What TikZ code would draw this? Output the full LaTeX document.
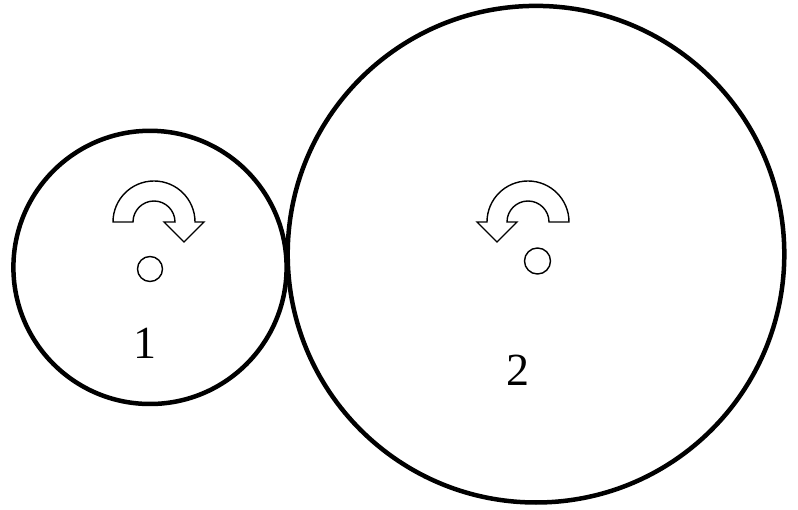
\documentclass[tikz,border=0pt]{standalone}
\usepackage{fontspec}
\setmainfont{Liberation Serif}
\begin{document}
\begin{tikzpicture}[x=1pt,y=1pt,
  gear/.style={draw=black,line width=4.5pt},
  hub/.style={draw=black,line width=1.4pt},
  turn/.style={draw=black,line width=1.4pt,line join=miter,fill=white},
  lbl/.style={inner sep=0pt,font=\fontsize{46}{46}\selectfont}]
\useasboundingbox (0,0) rectangle (798,509);
% gear 1
\draw[gear] (150,241.6) circle[radius=136.6];
\draw[hub] (150,240) circle[radius=12.5];
\draw[turn] (113,287) arc[start angle=180,end angle=0,radius=41]
  -- (204,287) -- (184,267) -- (164,287) -- (175,287)
  arc[start angle=0,end angle=180,radius=21] -- cycle;
\node[lbl] (one) at (144.7,166) {1};
% gear 2
\draw[gear] (536,254.8) circle[radius=248.3];
\draw[hub] (537.5,248) circle[radius=13];
\draw[turn] (569,287) arc[start angle=0,end angle=180,radius=41]
  -- (477,287) -- (497,267) -- (517,287) -- (507,287)
  arc[start angle=180,end angle=0,radius=21] -- cycle;
\node[lbl] (two) at (518.3,138.5) {2};
\end{tikzpicture}
\end{document}
